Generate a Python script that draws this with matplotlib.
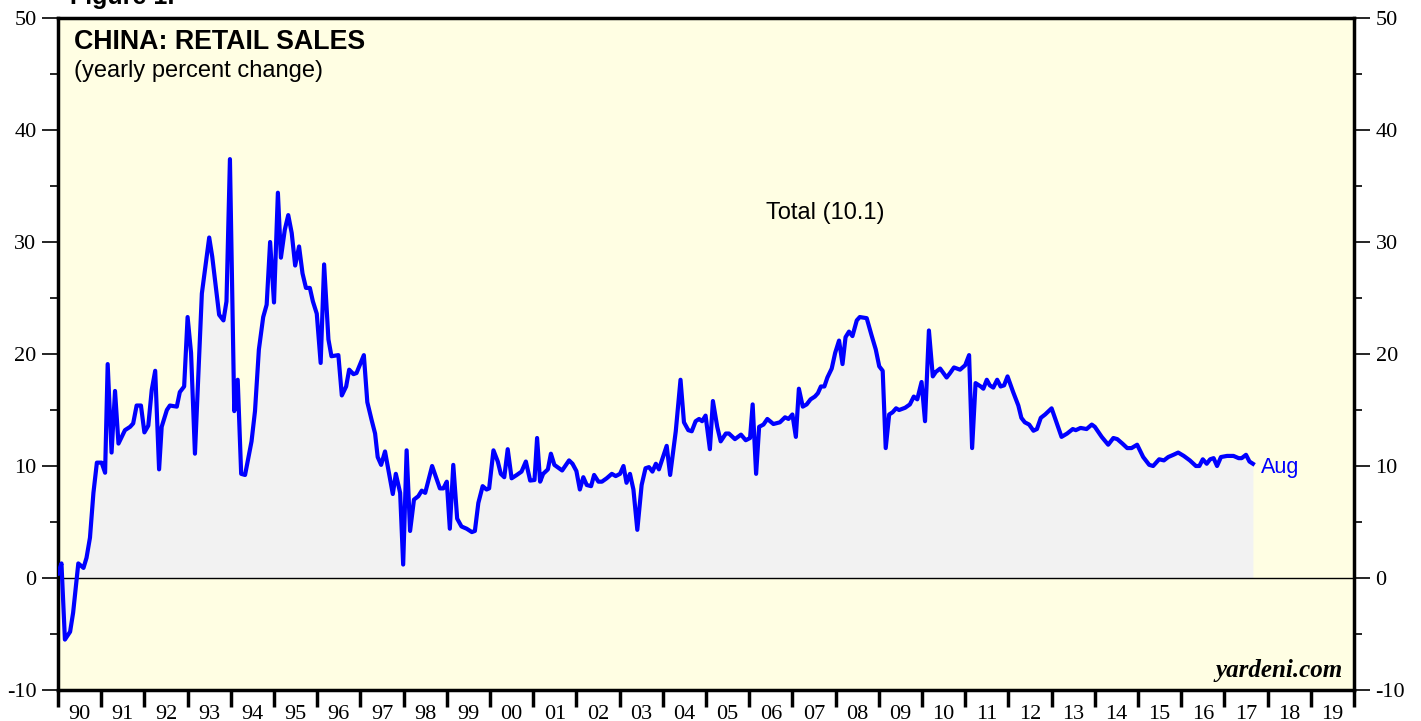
#!/usr/bin/env python3
# -*- coding: utf-8 -*-
"""
China retail sales - yearly percent change (yardeni style)
"""

import matplotlib
matplotlib.use('Agg')
import matplotlib.pyplot as plt
import numpy as np

plt.rcParams['font.family'] = 'DejaVu Sans'
plt.rcParams['axes.unicode_minus'] = False  # plain hyphen for -10

# decimal year of each reading and the value (yearly % change)
dates = [
    1990.00, 1990.08, 1990.16, 1990.28, 1990.35, 1990.47, 1990.59, 1990.66, 1990.74, 1990.82,
    1990.90, 1991.01, 1991.09, 1991.15, 1991.24, 1991.32, 1991.40, 1991.55, 1991.67, 1991.74,
    1991.82, 1991.92, 1992.00, 1992.09, 1992.17, 1992.25, 1992.34, 1992.40, 1992.52, 1992.59,
    1992.75, 1992.82, 1992.92, 1993.00, 1993.08, 1993.17, 1993.33, 1993.50, 1993.57, 1993.73,
    1993.83, 1993.90, 1993.98, 1994.08, 1994.16, 1994.24, 1994.33, 1994.48, 1994.56, 1994.65,
    1994.75, 1994.83, 1994.91, 1995.00, 1995.09, 1995.16, 1995.25, 1995.33, 1995.41, 1995.49,
    1995.58, 1995.66, 1995.74, 1995.83, 1995.90, 1995.99, 1996.08, 1996.16, 1996.26, 1996.33,
    1996.49, 1996.57, 1996.67, 1996.74, 1996.84, 1996.91, 1997.08, 1997.16, 1997.26, 1997.34,
    1997.40, 1997.48, 1997.57, 1997.65, 1997.75, 1997.82, 1997.92, 1997.99, 1998.07, 1998.15,
    1998.24, 1998.34, 1998.42, 1998.50, 1998.66, 1998.84, 1998.92, 1999.00, 1999.07, 1999.15,
    1999.24, 1999.34, 1999.46, 1999.58, 1999.65, 1999.73, 1999.83, 1999.92, 1999.98, 2000.08,
    2000.18, 2000.25, 2000.33, 2000.41, 2000.50, 2000.62, 2000.73, 2000.83, 2000.93, 2001.03,
    2001.09, 2001.16, 2001.23, 2001.34, 2001.41, 2001.49, 2001.60, 2001.67, 2001.83, 2001.91,
    2002.00, 2002.08, 2002.16, 2002.24, 2002.34, 2002.41, 2002.51, 2002.59, 2002.70, 2002.82,
    2002.91, 2003.01, 2003.09, 2003.16, 2003.24, 2003.32, 2003.41, 2003.51, 2003.60, 2003.68,
    2003.76, 2003.84, 2003.91, 2004.09, 2004.17, 2004.30, 2004.41, 2004.49, 2004.59, 2004.67,
    2004.76, 2004.84, 2004.91, 2004.99, 2005.09, 2005.16, 2005.26, 2005.34, 2005.46, 2005.53,
    2005.67, 2005.81, 2005.92, 2006.02, 2006.08, 2006.16, 2006.23, 2006.33, 2006.42, 2006.56,
    2006.71, 2006.83, 2006.91, 2007.00, 2007.08, 2007.15, 2007.24, 2007.33, 2007.42, 2007.52,
    2007.59, 2007.66, 2007.74, 2007.81, 2007.91, 2007.99, 2008.08, 2008.16, 2008.23, 2008.31,
    2008.39, 2008.49, 2008.56, 2008.72, 2008.83, 2008.93, 2009.01, 2009.09, 2009.16, 2009.24,
    2009.32, 2009.40, 2009.47, 2009.61, 2009.72, 2009.81, 2009.89, 2009.99, 2010.07, 2010.16,
    2010.25, 2010.32, 2010.42, 2010.57, 2010.65, 2010.74, 2010.88, 2011.00, 2011.09, 2011.16,
    2011.24, 2011.36, 2011.42, 2011.50, 2011.57, 2011.65, 2011.74, 2011.82, 2011.90, 2011.98,
    2012.11, 2012.23, 2012.30, 2012.38, 2012.48, 2012.58, 2012.66, 2012.75, 2012.85, 2013.00,
    2013.23, 2013.36, 2013.49, 2013.56, 2013.67, 2013.81, 2013.93, 2014.00, 2014.16, 2014.31,
    2014.43, 2014.52, 2014.64, 2014.75, 2014.85, 2014.98, 2015.12, 2015.26, 2015.35, 2015.49,
    2015.60, 2015.70, 2015.82, 2015.93, 2016.06, 2016.20, 2016.34, 2016.42, 2016.50, 2016.59,
    2016.67, 2016.75, 2016.83, 2016.92, 2017.06, 2017.21, 2017.33, 2017.40, 2017.50, 2017.58,
    2017.66,
]
retail_sales = [
    0.4, 1.3, -5.5, -4.8, -3.1, 1.3, 0.9, 1.8, 3.6, 7.6,
    10.3, 10.3, 9.4, 19.1, 11.2, 16.7, 12.0, 13.2, 13.5, 13.8,
    15.4, 15.4, 13.0, 13.6, 16.8, 18.5, 9.7, 13.5, 15.0, 15.4,
    15.3, 16.6, 17.1, 23.3, 20.1, 11.1, 25.4, 30.4, 28.7, 23.5,
    23.0, 24.7, 37.4, 14.9, 17.7, 9.3, 9.2, 12.2, 14.9, 20.4,
    23.3, 24.4, 30.0, 24.6, 34.4, 28.6, 31.1, 32.4, 30.8, 27.9,
    29.6, 27.2, 25.9, 25.9, 24.7, 23.6, 19.2, 28.0, 21.3, 19.8,
    19.9, 16.3, 17.1, 18.6, 18.2, 18.3, 19.9, 15.7, 14.1, 12.9,
    10.8, 10.1, 11.3, 9.6, 7.5, 9.3, 7.6, 1.2, 11.4, 4.2,
    7.0, 7.3, 7.8, 7.6, 10.0, 8.0, 8.0, 8.6, 4.4, 10.1,
    5.3, 4.6, 4.4, 4.1, 4.2, 6.7, 8.2, 7.9, 8.0, 11.4,
    10.4, 9.3, 9.0, 11.5, 8.9, 9.2, 9.5, 10.4, 8.7, 8.75,
    12.5, 8.6, 9.3, 9.7, 11.1, 10.1, 9.8, 9.6, 10.5, 10.2,
    9.55, 7.9, 9.0, 8.3, 8.2, 9.2, 8.6, 8.6, 8.9, 9.3,
    9.1, 9.3, 10.0, 8.5, 9.3, 7.9, 4.3, 8.3, 9.8, 9.9,
    9.5, 10.2, 9.7, 11.8, 9.2, 13.1, 17.7, 13.9, 13.2, 13.1,
    14.0, 14.2, 14.0, 14.5, 11.5, 15.8, 13.5, 12.2, 12.9, 12.9,
    12.4, 12.8, 12.3, 12.5, 15.5, 9.3, 13.5, 13.7, 14.2, 13.75,
    13.9, 14.35, 14.2, 14.6, 12.6, 16.9, 15.3, 15.5, 15.95, 16.2,
    16.5, 17.1, 17.1, 17.9, 18.7, 20.1, 21.2, 19.1, 21.5, 22.0,
    21.6, 23.0, 23.3, 23.2, 21.7, 20.4, 18.9, 18.5, 11.6, 14.6,
    14.8, 15.15, 15.0, 15.2, 15.5, 16.2, 15.95, 17.5, 14.0, 22.1,
    18.0, 18.4, 18.7, 17.9, 18.3, 18.8, 18.6, 19.0, 19.9, 11.6,
    17.4, 17.1, 16.9, 17.7, 17.2, 17.0, 17.7, 17.1, 17.2, 18.0,
    16.6, 15.4, 14.3, 13.9, 13.7, 13.15, 13.3, 14.3, 14.6, 15.15,
    12.6, 12.9, 13.3, 13.2, 13.4, 13.3, 13.7, 13.5, 12.6, 11.9,
    12.5, 12.4, 12.0, 11.6, 11.6, 11.9, 10.8, 10.1, 10.0, 10.6,
    10.5, 10.8, 11.0, 11.2, 10.9, 10.5, 10.0, 10.0, 10.6, 10.2,
    10.6, 10.7, 10.0, 10.8, 10.9, 10.9, 10.7, 10.7, 11.0, 10.4,
    10.2,
]

# x axis: years 1990 .. 2019, labelled with two digits
years = list(range(1990, 2020))
year_labels = ['%02d' % (y % 100) for y in years]
y_major = [-10, 0, 10, 20, 30, 40, 50]

BG = '#FFFEE3'
FILL = '#F2F2F2'
SERIF = ['Liberation Serif', 'DejaVu Serif']
SANS = ['Liberation Sans', 'DejaVu Sans']


def make_chart():
    fig = plt.figure(figsize=(14.21, 7.21), dpi=100)
    ax = fig.add_axes([58 / 1421, 1 - 690 / 721, (1354 - 58) / 1421, (690 - 18) / 721])
    ax.set_facecolor(BG)

    x = np.array(dates)
    y = np.array(retail_sales)

    # grey area between the line and zero
    ax.fill_between(x, 0, y, color=FILL, linewidth=0, zorder=1)
    ax.axhline(0, color='black', linewidth=1.0, zorder=2)
    ax.plot(x, y, color='#0000FF', linewidth=3.0, solid_joinstyle='round', zorder=3)

    ax.set_xlim(1990, 2020)
    ax.set_ylim(-10, 50)

    # y ticks on both sides, minor every 5
    ax.set_yticks(y_major)
    ax.set_yticks(np.arange(-10, 51, 5), minor=True)
    ax.tick_params(axis='y', which='major', direction='out', length=11.5, width=1.2,
                   left=True, right=True, labelleft=True, labelright=True, labelsize=16, pad=4)
    ax.tick_params(axis='y', which='minor', direction='out', length=6, width=1.2,
                   left=True, right=True)
    for lab in ax.get_yticklabels():
        lab.set_family(SERIF)

    # x: tick marks on year boundaries, labels in the middle of each year
    ax.set_xticks(years + [2020])
    ax.set_xticklabels([''] * (len(years) + 1))
    ax.set_xticks([yr + 0.5 for yr in years], minor=True)
    ax.set_xticklabels(year_labels, minor=True)
    ax.tick_params(axis='x', which='major', direction='out', length=12, width=2.5)
    ax.tick_params(axis='x', which='minor', length=0, labelsize=16, pad=10.5)
    for lab in ax.get_xticklabels(minor=True):
        lab.set_family(SERIF)

    for s in ax.spines.values():
        s.set_linewidth(2.5)

    # texts
    ax.text(0.012, 0.984, 'CHINA: RETAIL SALES', transform=ax.transAxes, family=SANS,
            fontsize=19.3, fontweight='bold', va='top', ha='left')
    ax.text(0.012, 0.938, '(yearly percent change)', transform=ax.transAxes, family=SANS,
            fontsize=17, va='top', ha='left')
    ax.text(2007.77, 32.6, 'Total (10.1)', family=SANS, fontsize=17, ha='center', va='center')
    ax.text(dates[-1] + 0.18, retail_sales[-1] - 0.35, 'Aug', family=SANS, fontsize=15.5,
            color='#0000FF', ha='left', va='center')
    ax.text(0.991, 0.012, 'yardeni.com', transform=ax.transAxes, family=SERIF,
            fontsize=18, fontweight='bold', style='italic', ha='right', va='bottom')

    # cut off figure caption at the very top
    fig.text(70 / 1421, 1.004, 'Figure 1.', family=SANS, fontsize=18, fontweight='bold',
             ha='left', va='center')

    fig.savefig('out.png', dpi=100, facecolor='white')
    plt.close(fig)


if __name__ == '__main__':
    make_chart()
